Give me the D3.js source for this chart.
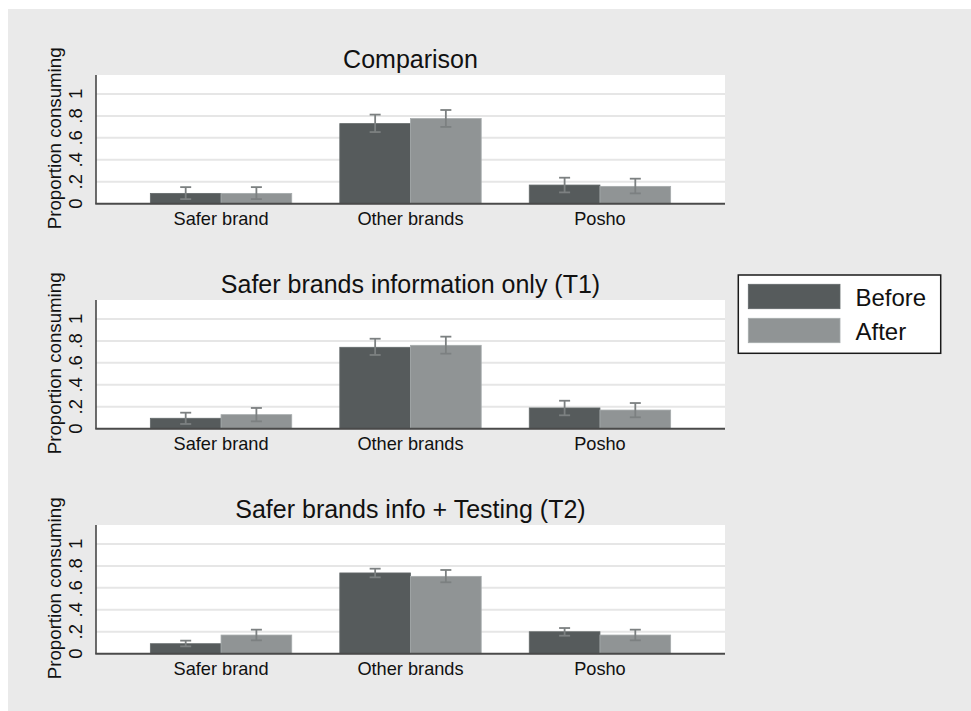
<!DOCTYPE html>
<html>
<head>
<meta charset="utf-8">
<script src="https://cdn.jsdelivr.net/npm/d3@7"></script>
<style>
  html, body { margin: 0; padding: 0; background: #ffffff; }
  svg { display: block; font-family: "Liberation Sans", Arial, sans-serif; }
</style>
</head>
<body>
<svg id="chart" width="971" height="711"></svg>
<script>
// Brand categories and the before/after series
const categories = ["Safer brand", "Other brands", "Posho"];
const seriesNames = ["Before", "After"];
const panelTitles = ["Comparison", "Safer brands information only (T1)", "Safer brands info + Testing (T2)"];
const yTicks = [0, 0.2, 0.4, 0.6, 0.8, 1];
const yTickLabels = ["0", ".2", ".4", ".6", ".8", "1"];

// Comparison group
const comparisonBefore = [0.094, 0.730, 0.170];
const comparisonAfter  = [0.094, 0.776, 0.158];
const comparisonBeforeCI = [[0.042, 0.151], [0.653, 0.812], [0.103, 0.237]];
const comparisonAfterCI  = [[0.042, 0.151], [0.700, 0.854], [0.094, 0.228]];

// T1: safer brands information only
const t1Before = [0.095, 0.742, 0.189];
const t1After  = [0.128, 0.760, 0.170];
const t1BeforeCI = [[0.043, 0.146], [0.672, 0.820], [0.122, 0.255]];
const t1AfterCI  = [[0.067, 0.189], [0.684, 0.839], [0.104, 0.234]];

// T2: safer brands info + testing
const t2Before = [0.091, 0.736, 0.200];
const t2After  = [0.170, 0.705, 0.170];
const t2BeforeCI = [[0.067, 0.119], [0.696, 0.775], [0.164, 0.234]];
const t2AfterCI  = [[0.122, 0.219], [0.651, 0.763], [0.122, 0.219]];

const panels = [
  { title: panelTitles[0], values: [comparisonBefore, comparisonAfter], ci: [comparisonBeforeCI, comparisonAfterCI] },
  { title: panelTitles[1], values: [t1Before, t1After], ci: [t1BeforeCI, t1AfterCI] },
  { title: panelTitles[2], values: [t2Before, t2After], ci: [t2BeforeCI, t2AfterCI] }
];

const colors = { Before: "#565b5c", After: "#909495" };
const ciColor = "#7c8081";
const textColor = "#111111";

const svg = d3.select("#chart");

// outer grey graph region
svg.append("rect").attr("x", 8).attr("y", 9).attr("width", 963).attr("height", 702).attr("fill", "#eaeaea");

const plotLeft = 96, plotRight = 725;
const plotHeight = 128.7;
const yMax = 1.173;
const panelBases = [203.7, 428.7, 653.7];

const x = d3.scalePoint().domain(categories).range([plotLeft, plotRight]).padding(0.66);
const xs = d3.scaleBand().domain(seriesNames).range([-70.7, 70.7]).padding(0);

panels.forEach((p, i) => {
  const base = panelBases[i];
  const y = d3.scaleLinear().domain([0, yMax]).range([base, base - plotHeight]);
  const g = svg.append("g");

  // plot region
  g.append("rect")
    .attr("x", plotLeft).attr("y", y(yMax))
    .attr("width", plotRight - plotLeft).attr("height", base - y(yMax))
    .attr("fill", "#ffffff");

  // horizontal gridlines
  g.selectAll(".grid").data(yTicks.filter(t => t > 0)).join("line")
    .attr("x1", plotLeft).attr("x2", plotRight)
    .attr("y1", d => y(d)).attr("y2", d => y(d))
    .attr("stroke", "#e6e6e6").attr("stroke-width", 2);

  // bars
  seriesNames.forEach((s, si) => {
    g.selectAll(".bar-" + s).data(categories).join("rect")
      .attr("x", c => x(c) + xs(s))
      .attr("width", xs.bandwidth())
      .attr("y", (c, ci) => y(p.values[si][ci]))
      .attr("height", (c, ci) => base - y(p.values[si][ci]))
      .attr("fill", colors[s])
      .attr("stroke", d3.color(colors[s]).brighter(0.4))
      .attr("stroke-width", 0.8);
  });

  // confidence intervals
  seriesNames.forEach((s, si) => {
    categories.forEach((c, ci) => {
      const cx = x(c) + xs(s) + xs.bandwidth() / 2;
      const [lo, hi] = p.ci[si][ci];
      g.append("line").attr("x1", cx).attr("x2", cx).attr("y1", y(lo)).attr("y2", y(hi))
        .attr("stroke", ciColor).attr("stroke-width", 1.8);
      [lo, hi].forEach(v => {
        g.append("line").attr("x1", cx - 5.5).attr("x2", cx + 5.5).attr("y1", y(v)).attr("y2", y(v))
          .attr("stroke", ciColor).attr("stroke-width", 1.8);
      });
    });
  });

  // axes lines
  g.append("line").attr("x1", plotLeft).attr("x2", plotLeft).attr("y1", y(yMax)).attr("y2", base)
    .attr("stroke", "#3c3c3c").attr("stroke-width", 1.5);
  g.append("line").attr("x1", plotLeft - 0.75).attr("x2", plotRight).attr("y1", base).attr("y2", base)
    .attr("stroke", "#4a4a4a").attr("stroke-width", 2);

  // y tick labels (rotated)
  g.selectAll(".ytl").data(yTicks).join("text")
    .attr("transform", (d) => `translate(81.7,${y(d)}) rotate(-90)`)
    .attr("text-anchor", "middle")
    .attr("font-size", 18.5).attr("fill", textColor)
    .text((d, k) => yTickLabels[k]);

  // y axis title
  g.append("text")
    .attr("transform", `translate(61,${(base + y(yMax)) / 2 - 1}) rotate(-90)`)
    .attr("text-anchor", "middle")
    .attr("font-size", 18.7).attr("fill", textColor)
    .text("Proportion consuming");

  // x category labels
  g.selectAll(".xl").data(categories).join("text")
    .attr("x", c => x(c)).attr("y", base + 21)
    .attr("text-anchor", "middle")
    .attr("font-size", 18.2).attr("fill", textColor)
    .text(c => c);

  // panel title
  g.append("text")
    .attr("x", (plotLeft + plotRight) / 2).attr("y", base - 136)
    .attr("text-anchor", "middle")
    .attr("font-size", 25).attr("fill", textColor)
    .text(p.title);
});

// legend
const lg = svg.append("g");
lg.append("rect").attr("x", 738.3).attr("y", 275).attr("width", 202.4).attr("height", 78.3)
  .attr("fill", "#ffffff").attr("stroke", "#1a1a1a").attr("stroke-width", 1.5);
seriesNames.forEach((s, k) => {
  const top = 284.3 + k * 34;
  lg.append("rect").attr("x", 748.3).attr("y", top).attr("width", 91.7).attr("height", 24.4)
    .attr("fill", colors[s]).attr("stroke", d3.color(colors[s]).brighter(0.4)).attr("stroke-width", 0.8);
  lg.append("text").attr("x", 855.5).attr("y", top + 21.4)
    .attr("font-size", 24).attr("fill", textColor).text(s);
});
</script>
</body>
</html>
